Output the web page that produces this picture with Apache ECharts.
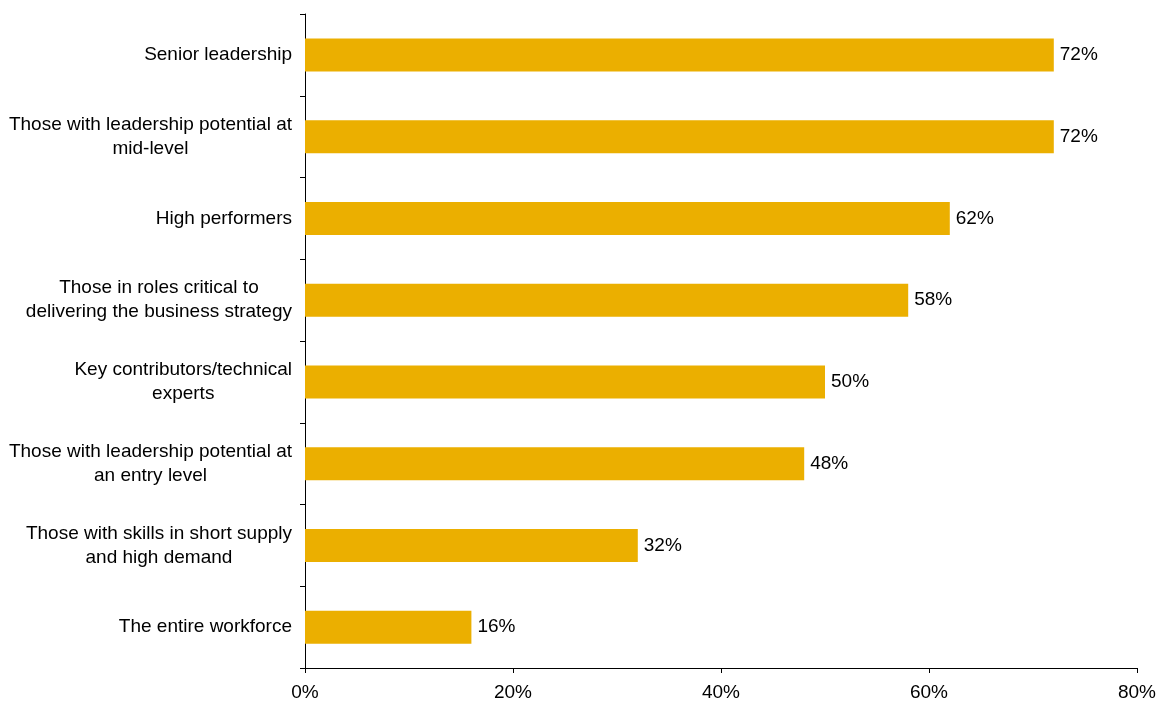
<!DOCTYPE html>
<html>
<head>
<meta charset="utf-8">
<script src="https://cdn.jsdelivr.net/npm/echarts@6/dist/echarts.min.js"></script>
<style>html,body{margin:0;padding:0;background:#fff;}#c{width:1157px;height:701px;}</style>
</head>
<body>
<div id="c"></div>
<script>
const categories = [
  "Senior leadership",
  "Those with leadership potential at\nmid-level",
  "High performers",
  "Those in roles critical to\ndelivering the business strategy",
  "Key contributors/technical\nexperts",
  "Those with leadership potential at\nan entry level",
  "Those with skills in short supply\nand high demand",
  "The entire workforce"
];
const values = [72, 72, 62, 58, 50, 48, 32, 16];
const xTicks = [0, 20, 40, 60, 80];

const chart = echarts.init(document.getElementById('c'));
const font = "'Liberation Sans', Arial, sans-serif";
const fs = 19;
chart.setOption({
  animation: false,
  grid: { left: 305, right: 20, top: 14, bottom: 33, containLabel: false, outerBoundsMode: 'none' },
  xAxis: {
    type: 'value', min: xTicks[0], max: xTicks[xTicks.length - 1], interval: 20,
    axisLine: { show: true, lineStyle: { color: '#000', width: 1 } },
    axisTick: { show: true, length: 5, lineStyle: { color: '#000' } },
    splitLine: { show: false },
    axisLabel: { formatter: v => v + '%', color: '#000', fontSize: fs, fontFamily: font, margin: 15 }
  },
  yAxis: {
    type: 'category', data: categories, inverse: true,
    axisLine: { show: true, lineStyle: { color: '#000', width: 1 } },
    axisTick: { show: true, length: 5, alignWithLabel: false, lineStyle: { color: '#000' } },
    axisLabel: {
      color: '#000', fontSize: fs, fontFamily: font, margin: 13, lineHeight: 24,
      formatter: v => v.split('\n').map(l => '{c|' + l + '}').join('\n'),
      rich: { c: { align: 'center', fontSize: fs, fontFamily: font, color: '#000', lineHeight: 24 } }
    }
  },
  series: [{
    type: 'bar', data: values, barWidth: 33,
    itemStyle: { color: '#EBAF00' },
    label: { show: true, position: 'right', distance: 6, formatter: p => p.value + '%', color: '#000', fontSize: fs, fontFamily: font }
  }]
});
</script>
</body>
</html>
